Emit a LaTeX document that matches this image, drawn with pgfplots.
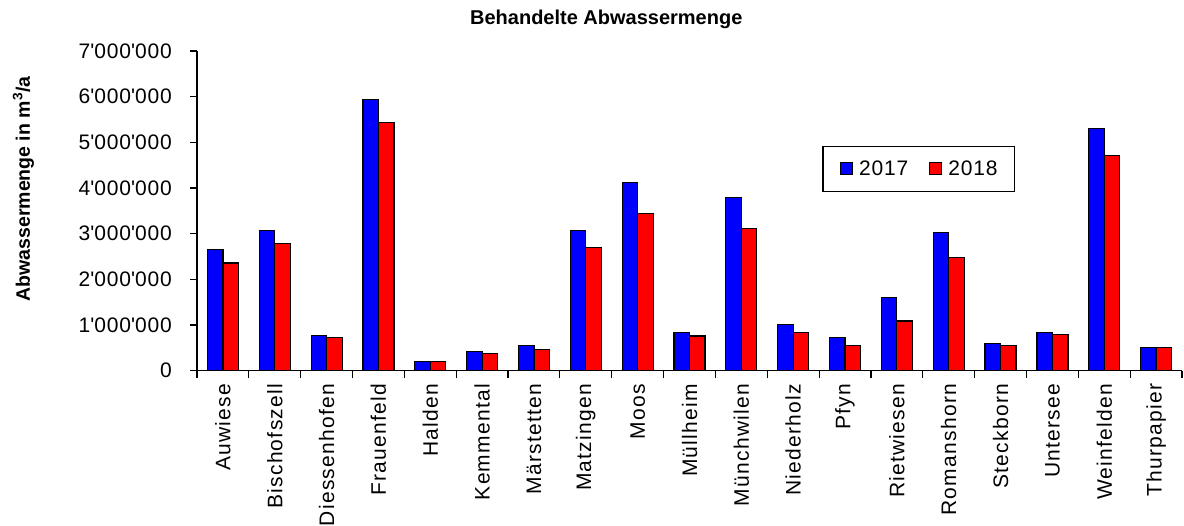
\documentclass[border=0pt]{standalone}
\usepackage{pgfplots}
\pgfplotsset{compat=1.18}
\usepackage{pgfplotstable}
\usepackage{fontspec}
\setmainfont{Liberation Sans}
\newfontfamily\spacedfont[LetterSpace=4]{Liberation Sans}
\newfontfamily\xlabfont[LetterSpace=6]{Liberation Sans}
\definecolor{cblue}{RGB}{0,0,255}
\definecolor{cred}{RGB}{255,0,0}
\pgfplotstableread{
x a b
0 2.65 2.36
1 3.07 2.78
2 0.77 0.72
3 5.93 5.43
4 0.21 0.20
5 0.42 0.38
6 0.55 0.46
7 3.07 2.69
8 4.12 3.45
9 0.84 0.76
10 3.79 3.12
11 1.01 0.84
12 0.72 0.55
13 1.60 1.09
14 3.03 2.48
15 0.59 0.55
16 0.84 0.80
17 5.31 4.72
18 0.50 0.50
}\datatable
\begin{document}
\begin{tikzpicture}[x=1pt,y=1pt]
\begin{axis}[
  at={(197pt,155.3pt)}, anchor=south west,
  scale only axis, width=985pt, height=319.7pt,
  ybar=0pt, bar width=15.5pt,
  xmin=-0.5, xmax=18.5, ymin=0, ymax=7,
  axis x line*=bottom, axis y line*=left,
  axis line style={-, line width=1.2pt, black},
  tick align=outside, major tick length=7pt,
  tick style={line width=1.2pt, black},
  xtick={-0.5,0.5,...,18.5}, xticklabels={},
  extra x ticks={0,1,...,18},
  extra x tick style={major tick length=0pt},
  extra x tick labels={Auwiese,Bischofszell,Diessenhofen,Frauenfeld,Halden,Kemmental,Märstetten,Matzingen,Moos,Müllheim,Münchwilen,Niederholz,Pfyn,Rietwiesen,Romanshorn,Steckborn,Untersee,Weinfelden,Thurpapier},
  xticklabel style={rotate=90, anchor=east, inner sep=0pt, xshift=-13pt, font=\xlabfont\fontsize{21}{25}\selectfont},
  ytick={0,1,...,7},
  yticklabels={0,1\textquotesingle000\textquotesingle000,2\textquotesingle000\textquotesingle000,3\textquotesingle000\textquotesingle000,4\textquotesingle000\textquotesingle000,5\textquotesingle000\textquotesingle000,6\textquotesingle000\textquotesingle000,7\textquotesingle000\textquotesingle000},
  yticklabel style={anchor=east, inner sep=0pt, xshift=-18pt, font=\spacedfont\fontsize{21}{25}\selectfont},
  legend columns=2,
  legend style={at={(0.635,0.704)}, anchor=north west, draw=black, line width=1.2pt,
    inner xsep=17pt, inner ysep=14.5pt,
    nodes={inner sep=0pt, font=\spacedfont\fontsize{21}{25}\selectfont},
    /tikz/every odd column/.append style={column sep=6pt},
    /tikz/every even column/.append style={column sep=21pt}},
  legend image code/.code={\draw[#1, line width=1pt] (0pt,-6pt) rectangle (12pt,6pt);},
]
\addplot[fill=cblue, draw=black, line width=1.2pt] table[x=x,y=a]{\datatable};
\addplot[fill=cred, draw=black, line width=1.2pt] table[x=x,y=b]{\datatable};
\legend{2017,2018}
\end{axis}
\node[anchor=base, font=\bfseries\fontsize{20}{24}\selectfont, inner sep=0pt] at (606.3,501) {Behandelte Abwassermenge};
\node[anchor=base, rotate=90, font=\bfseries\fontsize{19.5}{23}\selectfont, inner sep=0pt] at (30,337) {Abwassermenge in m\textsuperscript{3}/a};
\pgfresetboundingbox
\useasboundingbox (0,0) rectangle (1184,526);
\end{tikzpicture}
\end{document}
